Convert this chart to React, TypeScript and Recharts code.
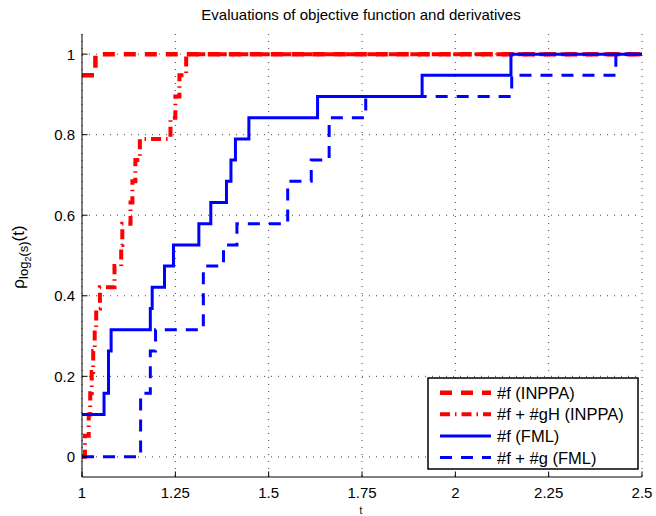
import React from 'react';
import { LineChart, Line, XAxis, YAxis, CartesianGrid } from 'recharts';

const W = 656;
const H = 516;
const FONT = '"Liberation Sans", Arial, Helvetica, sans-serif';

// number of test problems in the performance profile
const NPROB = 19;

const xTicks = [1, 1.25, 1.5, 1.75, 2, 2.25, 2.5];
const yTicks = [0, 0.2, 0.4, 0.6, 0.8, 1];

// #f (INPPA)
const inppaF_t = [1, 1.036, 2.5];
const inppaF_k = [18, 19, 19];

// #f + #gH (INPPA)
const inppaFgH_t = [1, 1.008, 1.018, 1.022, 1.026, 1.03, 1.034, 1.038, 1.048, 1.087, 1.105, 1.108, 1.13, 1.135, 1.143, 1.155, 1.237, 1.25, 1.261, 1.279, 2.5];
const inppaFgH_k = [0, 1, 2, 3, 4, 5, 6, 7, 8, 9, 10, 11, 12, 13, 14, 15, 16, 17, 18, 19, 19];

// #f (FML)
const fmlF_t = [1, 1.059, 1.071, 1.078, 1.183, 1.188, 1.221, 1.245, 1.313, 1.345, 1.387, 1.399, 1.411, 1.447, 1.631, 1.911, 2.149, 2.5];
const fmlF_k = [2, 3, 5, 6, 7, 8, 9, 10, 11, 12, 13, 14, 15, 16, 17, 18, 19, 19];

// #f + #g (FML)
const fmlFg_t = [1, 1.157, 1.183, 1.197, 1.325, 1.379, 1.415, 1.551, 1.614, 1.662, 1.76, 2.151, 2.43, 2.5];
const fmlFg_k = [0, 3, 5, 6, 9, 10, 11, 13, 14, 16, 17, 18, 19, 19];

const toRows = (ts: number[], ks: number[]) => ts.map((t, i) => ({ t, v: ks[i] / NPROB }));

const series = [
  { name: '#f (INPPA)', color: '#ff0000', dash: '12 9', width: 4.5, data: toRows(inppaF_t, inppaF_k) },
  { name: '#f + #gH (INPPA)', color: '#ff0000', dash: '10 5 1.5 5', width: 4, data: toRows(inppaFgH_t, inppaFgH_k) },
  { name: '#f (FML)', color: '#0000ff', dash: undefined as string | undefined, width: 3, data: toRows(fmlF_t, fmlF_k) },
  { name: '#f + #g (FML)', color: '#0000ff', dash: '12 9', width: 3, data: toRows(fmlFg_t, fmlFg_k) },
];

const TL = 5.5;

const BottomTick = (p: any) => (
  <g>
    <line x1={p.x} x2={p.x} y1={p.y} y2={p.y - TL} stroke="#000" strokeWidth={1} />
    <text x={p.x} y={p.y + 21} textAnchor="middle" fontSize={15} fontFamily={FONT} fill="#000">
      {String(p.payload.value)}
    </text>
  </g>
);
const TopTick = (p: any) => (
  <line x1={p.x} x2={p.x} y1={p.y} y2={p.y + TL} stroke="#000" strokeWidth={1} />
);
const LeftTick = (p: any) => (
  <g>
    <line x1={p.x} x2={p.x + TL} y1={p.y} y2={p.y} stroke="#000" strokeWidth={1} />
    <text x={p.x - 7} y={p.y + 5.5} textAnchor="end" fontSize={15} fontFamily={FONT} fill="#000">
      {String(p.payload.value)}
    </text>
  </g>
);
const RightTick = (p: any) => (
  <line x1={p.x} x2={p.x - TL} y1={p.y} y2={p.y} stroke="#000" strokeWidth={1} />
);

export default function App() {
  const legX = 428;
  const legY = 378;
  const legW = 210;
  const legH = 91;
  return (
    <div style={{ position: 'absolute', left: 0, top: 0, width: W, height: H, background: '#fff' }}>
      <LineChart
        width={W}
        height={H}
        margin={{ top: 34, right: 14, bottom: 9, left: 22 }}
      >
        <CartesianGrid
          stroke="#444"
          strokeDasharray="1 6"
          strokeWidth={1}
          horizontalValues={yTicks}
          verticalValues={xTicks}
        />
        <XAxis
          xAxisId={0}
          dataKey="t"
          type="number"
          domain={[1, 2.5]}
          ticks={xTicks}
          allowDataOverflow
          height={30}
          tickSize={0}
          tickMargin={0}
          tickLine={false}
          tick={BottomTick}
          axisLine={{ stroke: '#000', strokeWidth: 1 }}
          interval={0}
        />
        <XAxis
          xAxisId="top"
          orientation="top"
          dataKey="t"
          type="number"
          domain={[1, 2.5]}
          ticks={xTicks}
          allowDataOverflow
          height={0}
          tickSize={0}
          tickMargin={0}
          tickLine={false}
          tick={TopTick}
          axisLine={{ stroke: '#000', strokeWidth: 1 }}
          interval={0}
        />
        <YAxis
          yAxisId={0}
          type="number"
          domain={[-0.05, 1.05]}
          ticks={yTicks}
          allowDataOverflow
          width={60}
          tickSize={0}
          tickMargin={0}
          tickLine={false}
          tick={LeftTick}
          axisLine={{ stroke: '#000', strokeWidth: 1 }}
          interval={0}
        />
        <YAxis
          yAxisId="right"
          orientation="right"
          type="number"
          domain={[-0.05, 1.05]}
          ticks={yTicks}
          allowDataOverflow
          width={0}
          tickSize={0}
          tickMargin={0}
          tickLine={false}
          tick={RightTick}
          axisLine={{ stroke: '#000', strokeWidth: 1 }}
          interval={0}
        />
        {series.map((s) => (
          <Line
            key={s.name}
            data={s.data}
            dataKey="v"
            name={s.name}
            type="stepAfter"
            stroke={s.color}
            strokeWidth={s.width}
            strokeDasharray={s.dash}
            dot={false}
            activeDot={false}
            isAnimationActive={false}
            xAxisId={0}
            yAxisId={0}
          />
        ))}
      </LineChart>
      <svg
        width={W}
        height={H}
        style={{ position: 'absolute', left: 0, top: 0, pointerEvents: 'none' }}
      >
        <text x={361} y={20} textAnchor="middle" fontSize={15} fontFamily={FONT} fill="#000">
          Evaluations of objective function and derivatives
        </text>
        <text x={361} y={514} textAnchor="middle" fontSize={10} fontFamily={FONT} fill="#000">
          t
        </text>
        <text
          transform="translate(24,257) rotate(-90)"
          textAnchor="middle"
          fontSize={17}
          fontFamily={FONT}
          fill="#000"
        >
          ρ<tspan fontSize={13} dy={4}>log</tspan>
          <tspan fontSize={9} dy={3}>2</tspan>
          <tspan fontSize={13} dy={-3}>(s)</tspan>
          <tspan fontSize={17} dy={-4}>(t)</tspan>
        </text>
        <rect x={legX} y={legY} width={legW} height={legH} fill="#fff" stroke="#000" strokeWidth={1.5} />
        {series.map((s, i) => {
          const cy = legY + 14.7 + i * 21.6;
          return (
            <g key={s.name}>
              <line
                x1={legX + 12}
                x2={legX + 63}
                y1={cy}
                y2={cy}
                stroke={s.color}
                strokeWidth={s.width}
                strokeDasharray={s.dash}
              />
              <text x={legX + 69} y={cy + 6} fontSize={16.5} fontFamily={FONT} fill="#000">
                {s.name}
              </text>
            </g>
          );
        })}
      </svg>
    </div>
  );
}
